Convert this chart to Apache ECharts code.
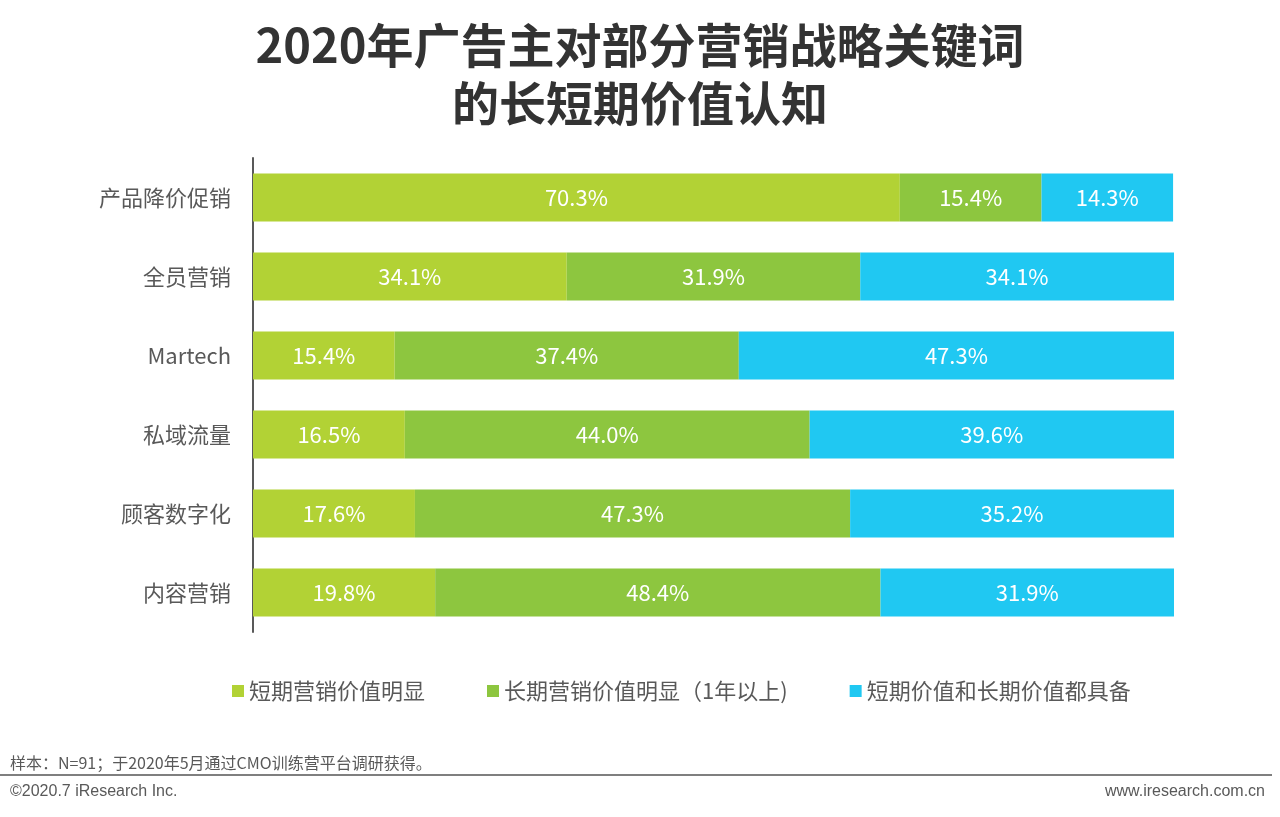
<!DOCTYPE html>
<html><head><meta charset="utf-8">
<script src="https://cdn.jsdelivr.net/npm/echarts@6/dist/echarts.min.js"></script>
<style>html,body{margin:0;padding:0;background:#fff}#c{width:1280px;height:817px}</style>
</head><body><div id="c"></div>
<script>
const categories = ['产品降价促销','全员营销','Martech','私域流量','顾客数字化','内容营销'];
const seriesNames = ['短期营销价值明显','长期营销价值明显（1年以上)','短期价值和长期价值都具备'];
const shortTerm = [70.3,34.1,15.4,16.5,17.6,19.8];
const longTerm = [15.4,31.9,37.4,44.0,47.3,48.4];
const both = [14.3,34.1,47.3,39.6,35.2,31.9];
const colors = ['#B2D235','#8DC63F','#20C8F2'];
const font = '"Noto Sans CJK SC","Noto Sans",sans-serif';
const chart = echarts.init(document.getElementById('c'));
const mk = (name, data, i) => ({
  name, type:'bar', stack:'t', data, barWidth:48,
  itemStyle:{color:colors[i]},
  label:{show:true, position:'inside', color:'#fff', fontSize:22, fontFamily:font, formatter:p=>p.value.toFixed(1)+'%'}
});
chart.setOption({
  animation:false,
  title:{text:'2020年广告主对部分营销战略关键词\n的长短期价值认知', left:'center', top:11,
    textStyle:{fontSize:47, fontWeight:'bold', color:'#333', fontFamily:font, lineHeight:58}},
  grid:{left:253, right:106, top:158, bottom:185},
  xAxis:{type:'value', min:0, max:100.1, show:false},
  yAxis:{type:'category', data:categories, inverse:true,
    axisLine:{lineStyle:{color:'#595959', width:2}}, axisTick:{show:false},
    axisLabel:{fontSize:22, color:'#595959', fontFamily:font, margin:22}},
  legend:{left:227, top:675, itemWidth:12, itemHeight:12, itemGap:62, icon:'rect',
    textStyle:{fontSize:22, color:'#595959', fontFamily:font}},
  series:[mk(seriesNames[0],shortTerm,0), mk(seriesNames[1],longTerm,1), mk(seriesNames[2],both,2)],
  graphic:[
    {type:'text', left:10, top:755, style:{text:'样本：N=91；于2020年5月通过CMO训练营平台调研获得。', fontSize:16, fill:'#595959', fontFamily:font}},
    {type:'rect', shape:{x:0, y:774, width:1272, height:2}, style:{fill:'#7F7F7F'}},
    {type:'text', left:10, top:784, style:{text:'©2020.7 iResearch Inc.', fontSize:16, fill:'#595959', fontFamily:'"Liberation Sans",sans-serif'}},
    {type:'text', right:15, top:784, style:{text:'www.iresearch.com.cn', fontSize:16, fill:'#595959', fontFamily:'"Liberation Sans",sans-serif'}}
  ]
});
</script></body></html>
